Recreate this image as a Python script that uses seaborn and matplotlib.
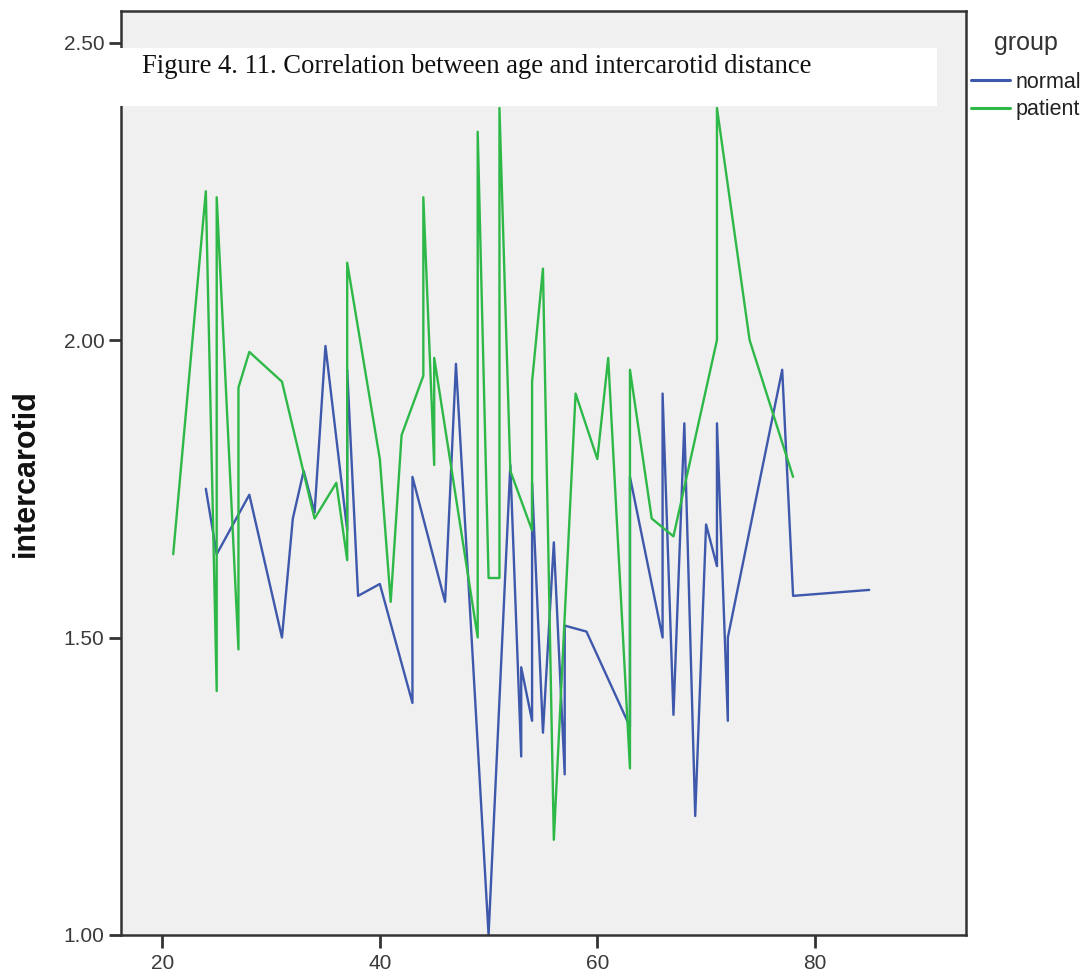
import matplotlib
matplotlib.use("Agg")
import matplotlib.pyplot as plt
from matplotlib.patches import Rectangle
import numpy as np
import pandas as pd
import seaborn as sns

# Age (years) and intercarotid distance for the normal group
normal_age = [24, 25, 28, 31, 32, 33, 34, 35, 37, 37, 38, 40, 43, 43, 46, 47, 50, 52,
              53, 53, 54, 54, 55, 56, 57, 57, 59, 63, 63, 66, 66, 67, 68, 69, 70, 71,
              71, 72, 72, 77, 78, 85]
normal_ic = [1.75, 1.64, 1.74, 1.50, 1.70, 1.78, 1.71, 1.99, 1.68, 1.95, 1.57, 1.59,
             1.39, 1.77, 1.56, 1.96, 1.00, 1.79, 1.30, 1.45, 1.36, 1.76, 1.34, 1.66,
             1.27, 1.52, 1.51, 1.35, 1.77, 1.50, 1.91, 1.37, 1.86, 1.20, 1.69, 1.62,
             1.86, 1.36, 1.50, 1.95, 1.57, 1.58]

# Age (years) and intercarotid distance for the patient group
patient_age = [21, 24, 25, 25, 27, 27, 28, 31, 34, 36, 37, 37, 40, 41, 42, 44, 44, 45,
               45, 49, 49, 50, 51, 51, 52, 54, 54, 55, 56, 58, 60, 61, 63, 63, 65, 67,
               71, 71, 74, 78]
patient_ic = [1.64, 2.25, 1.41, 2.24, 1.48, 1.92, 1.98, 1.93, 1.70, 1.76, 1.63, 2.13,
              1.80, 1.56, 1.84, 1.94, 2.24, 1.79, 1.97, 1.50, 2.35, 1.60, 1.60, 2.39,
              1.78, 1.68, 1.93, 2.12, 1.16, 1.91, 1.80, 1.97, 1.28, 1.95, 1.70, 1.67,
              2.00, 2.39, 2.00, 1.77]

groups = ["normal", "patient"]
x_ticks = [20, 40, 60, 80]
y_ticks = [1.00, 1.50, 2.00, 2.50]
title_text = "Figure 4. 11. Correlation between age and intercarotid distance"

df = pd.concat([
    pd.DataFrame({"age": normal_age, "intercarotid": normal_ic, "group": groups[0]}),
    pd.DataFrame({"age": patient_age, "intercarotid": patient_ic, "group": groups[1]}),
], ignore_index=True)

sns.set_theme(style="white")
plt.rcParams["font.family"] = ["Liberation Sans", "DejaVu Sans"]

W, H = 1092, 977
fig = plt.figure(figsize=(W / 100, H / 100), dpi=100)
ax = fig.add_axes([121 / W, 1 - 935 / H, (966 - 121) / W, (935 - 11) / H])
ax.set_facecolor("#F0F0F0")

palette = {"normal": "#3E58AC", "patient": "#2EB848"}
sns.lineplot(data=df, x="age", y="intercarotid", hue="group", hue_order=groups,
             palette=palette, estimator=None, sort=False, linewidth=1.7, ax=ax)

ax.set_xlim(16.2, 93.9)
ax.set_ylim(1.0, 2.553)
ax.set_xticks(x_ticks)
ax.set_xticklabels([str(t) for t in x_ticks])
ax.set_yticks(y_ticks)
ax.set_yticklabels([f"{t:.2f}" for t in y_ticks])
ax.tick_params(axis="both", which="major", direction="out", length=9, width=2,
               color="#333333", labelsize=15, labelcolor="#3a3a3a",
               bottom=True, left=True)
ax.tick_params(axis="x", pad=5)
ax.tick_params(axis="y", pad=3)
ax.set_xlabel("")
ax.set_ylabel("intercarotid", fontsize=22, fontweight="bold", color="#111111", labelpad=16)

for side in ["left", "right", "top", "bottom"]:
    ax.spines[side].set_visible(True)
    ax.spines[side].set_color("#333333")
    ax.spines[side].set_linewidth(1.8)

sns.move_legend(ax, "upper left", bbox_to_anchor=(971 / W, 1 - 31 / H),
                bbox_transform=fig.transFigure, frameon=False, title="group",
                fontsize=15.5, title_fontsize=18, handlelength=1.8,
                handletextpad=0.25, labelspacing=0.3, borderpad=0, borderaxespad=0)
leg = ax.get_legend()
leg._legend_box.sep = 12
leg.get_title().set_color("#333333")
for t in leg.get_texts():
    t.set_color("#222222")
for h in leg.get_lines():
    h.set_linewidth(2.2)

# caption box laid over the top of the plot
fig.patches.append(Rectangle((119 / W, 1 - 106 / H), (937 - 119) / W, 58 / H,
                             transform=fig.transFigure, facecolor="white",
                             edgecolor="none", zorder=10))
fig.text(142 / W, 1 - 73 / H, title_text, family=["Liberation Serif", "DejaVu Serif"],
         fontsize=19.2, color="#111111", va="baseline", ha="left", zorder=11)

fig.savefig("out.png", dpi=100, facecolor="white")
